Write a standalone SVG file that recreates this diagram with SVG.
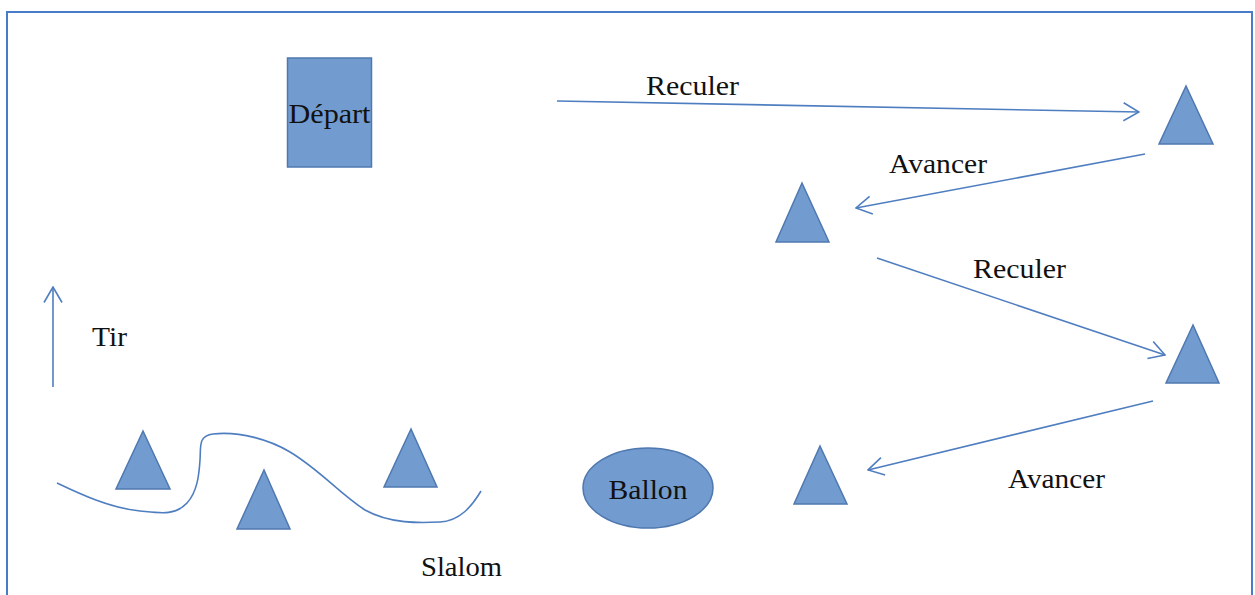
<svg xmlns="http://www.w3.org/2000/svg" width="1255" height="595" viewBox="0 0 1255 595">
<style>
.t{font-size:28px;fill:#111}
.cone{fill:#729ccf;stroke:#4f78b0;stroke-width:1.5}
.conn{fill:none;stroke:#4f7ec0;stroke-width:1.6}
</style>
<defs>
<marker id="ah" viewBox="0 0 17 20" refX="16" refY="10" markerWidth="17" markerHeight="20" markerUnits="userSpaceOnUse" orient="auto">
<path d="M0.5,1 L16,10 L0.5,19" fill="none" stroke="#4f7ec0" stroke-width="1.6"/>
</marker>
</defs>
<rect x="0" y="0" width="1255" height="595" fill="#fff"/>
<rect id="frame" x="7" y="12" width="1245" height="600" fill="none" stroke="#4a7bc8" stroke-width="2"/>
<g font-family="Liberation Serif, DejaVu Serif, serif">
<g id="depart">
<rect x="287.5" y="58" width="84" height="109" fill="#729ccf" stroke="#4f78b0" stroke-width="1.5"/>
<text class="t" x="329.5" y="123" text-anchor="middle" textLength="82" lengthAdjust="spacingAndGlyphs">Départ</text>
</g>
<g id="cone1"><polygon class="cone" points="1186,86 1159,144 1213,144"/></g>
<g id="cone2"><polygon class="cone" points="802,183 776,242 829,242"/></g>
<g id="cone3"><polygon class="cone" points="1193,325 1166,383 1219,383"/></g>
<g id="cone4"><polygon class="cone" points="820,446 794,504 847,504"/></g>
<g id="cone5"><polygon class="cone" points="143,431 116,489 170,489"/></g>
<g id="cone6"><polygon class="cone" points="264,470 237,529 290,529"/></g>
<g id="cone7"><polygon class="cone" points="411,429 384,487 437,487"/></g>
<g id="ballon">
<ellipse cx="648" cy="488" rx="65" ry="40" fill="#729ccf" stroke="#4f78b0" stroke-width="1.5"/>
<text class="t" x="648" y="499" text-anchor="middle" textLength="79" lengthAdjust="spacingAndGlyphs">Ballon</text>
</g>
<g id="connectors">
<line class="conn" x1="557" y1="101" x2="1139" y2="112" marker-end="url(#ah)"/>
<line class="conn" x1="1145" y1="154" x2="856" y2="208" marker-end="url(#ah)"/>
<line class="conn" x1="877" y1="258" x2="1165" y2="355" marker-end="url(#ah)"/>
<line class="conn" x1="1153" y1="401" x2="868" y2="470" marker-end="url(#ah)"/>
<line class="conn" x1="53" y1="387" x2="53" y2="287" marker-end="url(#ah)"/>
<path id="slalom-path" class="conn" d="M57,483 C80,494 110,508 140,511 C160,513 175,516 187,503 C197,492 199,476 200,460 C201,446 198,436 213,434 C240,431 270,440 290,452 C320,470 340,494 365,510 C390,524 420,523 440,522 C460,521 472,506 481,491"/>
</g>
<g id="labels">
<text class="t" x="646" y="95" textLength="93" lengthAdjust="spacingAndGlyphs">Reculer</text>
<text class="t" x="889" y="173" textLength="98" lengthAdjust="spacingAndGlyphs">Avancer</text>
<text class="t" x="973" y="278" textLength="93" lengthAdjust="spacingAndGlyphs">Reculer</text>
<text class="t" x="92" y="346" textLength="35" lengthAdjust="spacingAndGlyphs">Tir</text>
<text class="t" x="1008" y="488" textLength="97" lengthAdjust="spacingAndGlyphs">Avancer</text>
<text class="t" x="421" y="576" textLength="81" lengthAdjust="spacingAndGlyphs">Slalom</text>
</g>
</g>
</svg>
